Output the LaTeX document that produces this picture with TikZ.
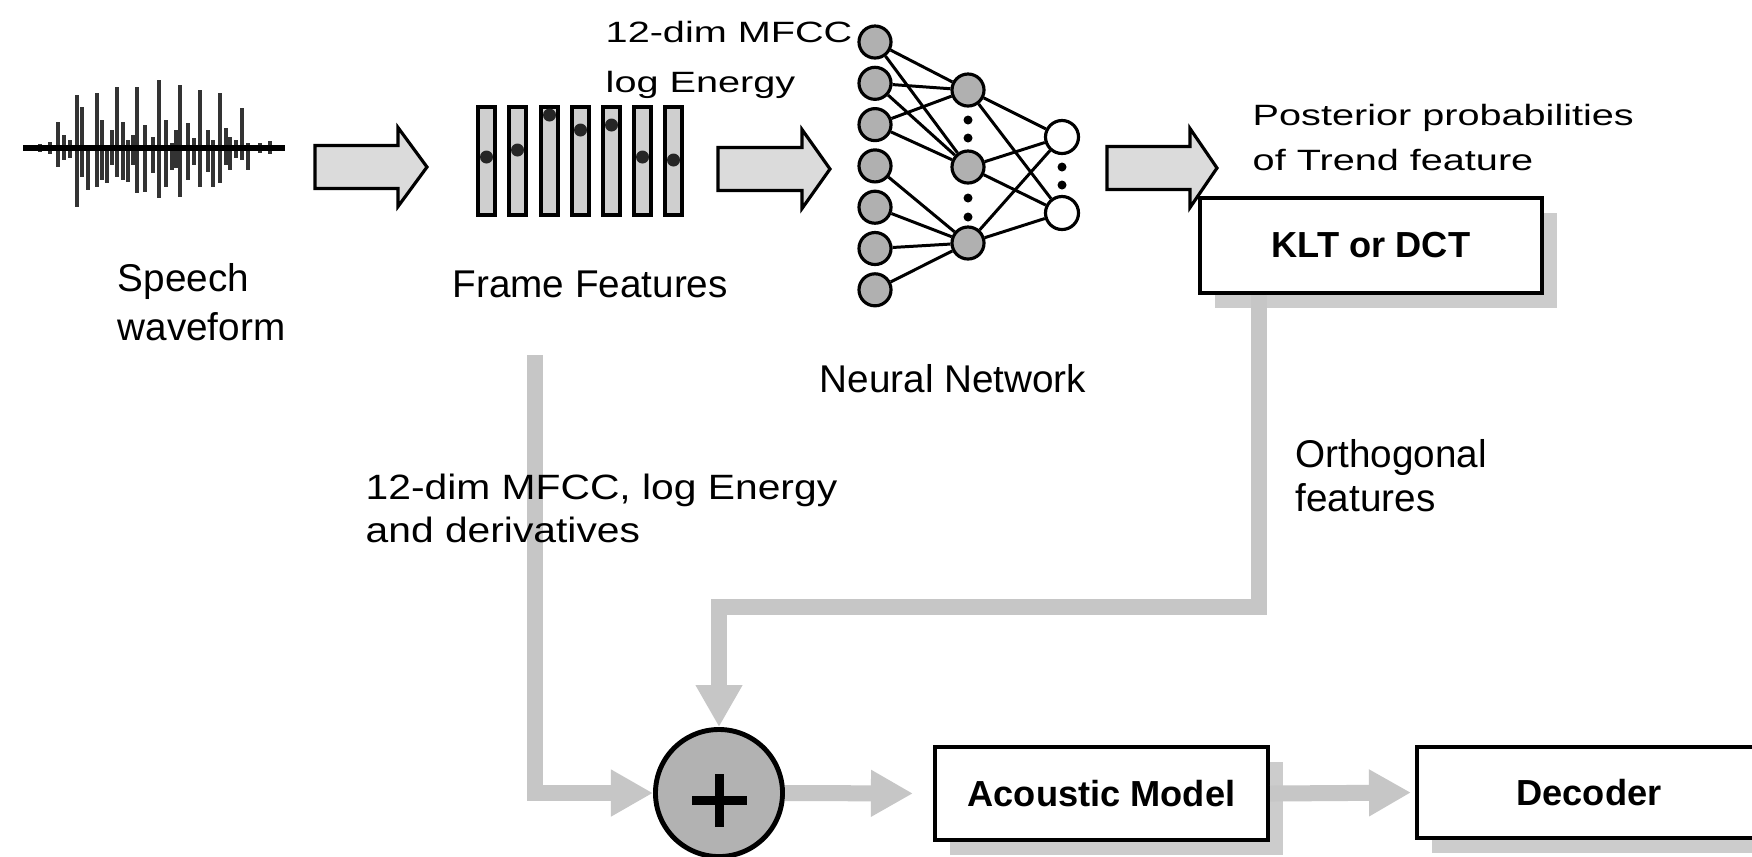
\documentclass[tikz,border=0pt]{standalone}
\usepackage{fontspec}
\setmainfont{Liberation Sans}
\newfontfamily\widefont[FakeStretch=1.35]{Liberation Sans}
\newfontfamily\midfont[FakeStretch=1.16]{Liberation Sans}
\usetikzlibrary{arrows.meta,shadows,calc}
\newcommand\hollowarrow[4]{%
  \draw[bigarrow] (#1,#4-21.5) -- (#2,#4-21.5) -- (#2,#4-39.5) -- (#3,#4) -- (#2,#4+39.5) -- (#2,#4+21.5) -- (#1,#4+21.5) -- cycle;}
\tikzset{
  bigarrow/.style={draw=black, line width=0.9pt, fill=gray!28, line join=miter},
  lbl/.style={inner sep=0, align=left, anchor=base west, font=\fontsize{11}{13.66}\selectfont},
  toplbl/.style={inner sep=0, align=left, anchor=base west, font=\widefont\fontsize{8.35}{14.2}\selectfont},
  boxnode/.style={draw, line width=1.1pt, fill=white, inner sep=0,
     font=\bfseries\fontsize{10.3}{12}\selectfont,
     drop shadow={shadow xshift=0.15cm, shadow yshift=-0.15cm, fill=gray!40, opacity=1}},
  greyconn/.style={draw=gray!45, line width=0.16cm, line join=miter,
     -{Triangle[width=0.44cm,length=0.42cm]}},
  nnin/.style={circle, draw, line width=0.9pt, fill=gray!62, minimum size=0.32cm, inner sep=0},
  nnout/.style={circle, draw, line width=0.9pt, fill=white, minimum size=0.33cm, inner sep=0},
  nnedge/.style={line width=0.85pt},
  framebar/.style={draw, line width=0.9pt, fill=gray!38},
}
\begin{document}
\begin{tikzpicture}[x=0.01cm,y=-0.01cm]
\useasboundingbox (0,0) rectangle (1752,856);
\clip (0,0) rectangle (1752,856);
\fill[white] (0,0) rectangle (1752,856);

% ---- boxes and summing node (placed first so connectors can refer to them)
\node[boxnode, minimum width=3.42cm, minimum height=0.95cm] (klt) at (1371,245.5) {KLT or DCT};
\node[circle, draw, line width=1.4pt, fill=gray!60, minimum size=1.27cm, inner sep=0] (plus) at (719,793) {};
\draw[line width=0.09cm] (692,800) -- (747,800) (719,774) -- (719,827);
\node[boxnode, minimum width=3.33cm, minimum height=0.93cm] (am) at (1101.5,793.5) {Acoustic Model};
\node[boxnode, minimum width=3.44cm, minimum height=0.91cm] (dec) at (1589,792.5) {Decoder};

% ---- grey connectors
\coordinate (ffout) at (535,355);
\draw[greyconn] (ffout) |- (plus.west);
\draw[greyconn] ([xshift=0.61cm]klt.south west) -- ++(0,312) -| (plus.north);
\draw[greyconn, shorten >=0.2cm] (plus.east) -- (am.west);
\draw[greyconn, shorten >=0.04cm] (am.east) -- (dec.west);

% ---- speech waveform
\foreach \x/\t/\b in {58/122/167,77/95/207,82/107/177,88/150/190,97/93/187,102/120/180,107/147/183,
  117/87/177,123/122/180,128/140/182,137/87/193,145/125/192,153/137/173,159/80/198,166/120/187,
  172/143/170,180/85/197,188/123/180,200/90/187,208/130/172,213/140/187,220/93/183,230/137/170,
  242/108/160,248/143/170,64/135/160,70/140/158,112/130/165,133/135/165,176/130/168,194/138/165,
  226/128/165,236/140/158,40/144/152,50/142/154,260/143/153,270/141/154}
  \draw[line width=1.4pt, black!80] (\x,\t) -- (\x,\b);
\draw[line width=1.5pt] (23,148) -- (285,148);
\node[lbl] (speech) at (117,340) {Speech\\waveform};

% ---- big hollow arrows
\hollowarrow{315}{398}{427}{167}
\hollowarrow{718}{802}{830}{169}
\hollowarrow{1107}{1190}{1217}{168}

% ---- frame features
\foreach \x/\d in {478/157,509/150,541/115,572/130,603/125,634/157,665/160}{
  \draw[framebar] (\x,107) rectangle +(17,108);
  \fill[black!85] (\x+8.5,\d) circle (6.5);
}
\node[lbl] (ff) at (452,297) {Frame Features};
\node[toplbl] (mfcc) at (605,92) {12-dim MFCC\\log Energy};

% ---- neural network
\foreach \i in {1,...,7}{
  \node[nnin] (i\i) at (875,{42+41.3*(\i-1)}) {};
}
\node[nnin] (h1) at (968,90) {};
\node[nnin] (h2) at (968,167) {};
\node[nnin] (h3) at (968,243) {};
\node[nnout] (o1) at (1062,137) {};
\node[nnout] (o2) at (1062,213) {};
\foreach \a/\b in {i1/h1,i1/h2,i2/h1,i2/h2,i3/h1,i3/h2,i4/h3,i5/h3,i6/h3,i7/h3,
  h1/o1,h1/o2,h2/o1,h2/o2,h3/o1,h3/o2}
  \draw[nnedge] (\a) -- (\b);
\foreach \y in {120,138,198,217}{\fill (968,\y) circle (4.5);}
\foreach \y in {167,185}{\fill (1062,\y) circle (4.5);}
\node[lbl] (nn) at (819,392) {Neural Network};

% ---- labels
\node[toplbl, font=\widefont\fontsize{8.35}{12.8}\selectfont] (post) at (1252,170) {Posterior probabilities\\of Trend feature};
\node[lbl, font=\fontsize{11}{12.5}\selectfont] (orth) at (1295,511) {Orthogonal\\features};
\node[inner sep=0, align=left, anchor=base west, font=\midfont\fontsize{10}{12}\selectfont] (deriv) at (365,542) {12-dim MFCC, log Energy\\and derivatives};
\end{tikzpicture}
\end{document}
